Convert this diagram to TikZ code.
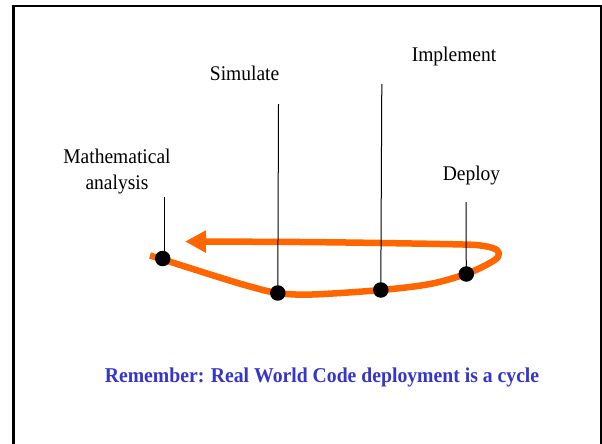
\documentclass[tikz,border=0pt]{standalone}
\usepackage{fontspec}
\setmainfont{Liberation Serif}
\usetikzlibrary{arrows.meta}
\definecolor{cycorange}{HTML}{FF6600}
\definecolor{remblue}{HTML}{3535CC}
\begin{document}
\begin{tikzpicture}[x=1pt,y=-1pt,
  lbl/.style={font=\fontsize{19.5}{24}\selectfont, inner sep=0pt, anchor=base, yscale=1.07},
  dotnode/.style={circle, fill=black, inner sep=0pt, minimum size=15.5pt},
  stem/.style={draw=black, line width=1pt},
  cyc/.style={draw=cycorange, line width=6.5pt, line cap=butt, line join=round}
]
\useasboundingbox (0,0) rectangle (602,444);
\fill[white] (0,0) rectangle (602,444);
% frame
\draw[line width=3pt] (13.5,444) -- (13.5,6);
\draw[line width=2pt] (12,6) -- (600.5,6) -- (600.5,444);

% labels
\node[lbl] (sim) at (244.6,80) {Simulate};
\node[lbl] (imp) at (454,62) {Implement};
\node[lbl] (dep) at (471.5,180) {Deploy};
\node[lbl, align=center] (math) at (117,189) {Mathematical\\ analysis};

% orange cycle
\draw[cyc, -{Triangle[length=21pt,width=21pt]}]
  plot[smooth, tension=0.55] coordinates {
   (150,255.5) (163,259.5) (215,276) (250,286.5) (278,293) (312,294.5)
   (381,290) (430,284) (466,274) (487,264.5) (498,257) (497,250)
   (484,246) (463,244.5) (380,243) (300,242) (185,241.5)};

% dots
\node[dotnode] (dmath) at (162.7,258.5) {};
\node[dotnode] (dsim) at (277.8,293) {};
\node[dotnode] (dimp) at (380.8,290) {};
\node[dotnode] (ddep) at (466.3,274) {};

% stems
\coordinate (tmath) at (164.6,197);
\coordinate (tsim) at (278.5,104);
\coordinate (timp) at (381.8,84);
\coordinate (tdep) at (466,202);
\draw[stem] (tmath) -- (164.6,258.5);
\draw[stem] (tsim) -- (dsim.center);
\draw[stem] (timp) -- (dimp.center);
\draw[stem] (tdep) -- (ddep.center);

% message
\node[lbl, font=\fontsize{19.7}{24}\selectfont\bfseries, text=remblue] (msg) at (322,382)
  {Remember: Real World Code deployment is a cycle};
\end{tikzpicture}
\end{document}
